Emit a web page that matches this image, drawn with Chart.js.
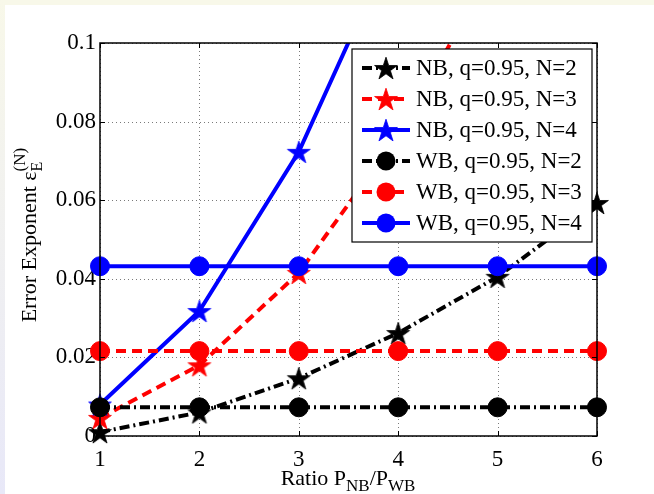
<!DOCTYPE html>
<html>
<head>
<meta charset="utf-8">
<script src="https://cdn.jsdelivr.net/npm/chart.js@4/dist/chart.umd.min.js"></script>
<style>
  html, body { margin: 0; padding: 0; background: #fff; }
  #wrap { width: 654px; height: 494px; position: relative; }
</style>
</head>
<body>
<div id="wrap"><canvas id="chart"></canvas></div>
<script>
// values
const ratios = [1, 2, 3, 4, 5, 6];
const nbN2 = [0.001, 0.006, 0.0147, 0.0262, 0.0405, 0.0593];
const nbN3 = [0.0046, 0.018, 0.0415, 0.0765, 0.121, 0.17];
const nbN4 = [0.008, 0.0318, 0.0723, 0.128, 0.19, 0.26];
const wbN2 = [0.0073, 0.0073, 0.0073, 0.0073, 0.0073, 0.0073];
const wbN3 = [0.0216, 0.0216, 0.0216, 0.0216, 0.0216, 0.0216];
const wbN4 = [0.0432, 0.0432, 0.0432, 0.0432, 0.0432, 0.0432];
const yTicks = [0, 0.02, 0.04, 0.06, 0.08, 0.1];
const seriesNames = [
  'NB, q=0.95, N=2', 'NB, q=0.95, N=3', 'NB, q=0.95, N=4',
  'WB, q=0.95, N=2', 'WB, q=0.95, N=3', 'WB, q=0.95, N=4'
];

const SERIF = '"Liberation Serif", "Times New Roman", serif';
const BLACK = '#000000', RED = '#ff0000', BLUE = '#0000ff';
const DASHDOT = [10, 4, 2, 4];
const DASHED = [10, 6];

function starImage(color) {
  const R = 12, r = R * 0.382, s = 28;
  const c = document.createElement('canvas');
  c.width = s; c.height = s;
  const g = c.getContext('2d');
  g.beginPath();
  for (let i = 0; i < 10; i++) {
    const rad = i % 2 ? r : R;
    const a = -Math.PI / 2 + i * Math.PI / 5;
    const px = s / 2 + rad * Math.cos(a), py = s / 2 + 1.2 + rad * Math.sin(a);
    i ? g.lineTo(px, py) : g.moveTo(px, py);
  }
  g.closePath();
  g.fillStyle = color;
  g.fill();
  g.lineWidth = 0.8;
  g.strokeStyle = color;
  g.stroke();
  return c;
}

const styles = [
  { color: BLACK, dash: DASHDOT, marker: 'star' },
  { color: RED, dash: DASHED, marker: 'star' },
  { color: BLUE, dash: [], marker: 'star' },
  { color: BLACK, dash: DASHDOT, marker: 'circle' },
  { color: RED, dash: DASHED, marker: 'circle' },
  { color: BLUE, dash: [], marker: 'circle' }
];
const seriesValues = [nbN2, nbN3, nbN4, wbN2, wbN3, wbN4];
const stars = {};
[BLACK, RED, BLUE].forEach(c => { stars[c] = starImage(c); });

const datasets = seriesValues.map((vals, i) => {
  const st = styles[i];
  return {
    label: seriesNames[i],
    data: ratios.map((x, k) => ({ x: x, y: vals[k] })),
    borderColor: st.color,
    backgroundColor: st.color,
    borderWidth: 4,
    borderDash: st.dash,
    pointStyle: st.marker === 'star' ? stars[st.color] : 'circle',
    pointRadius: 9.5,
    pointBorderWidth: 1,
    pointHoverRadius: 9.5,
    tension: 0,
    order: 5 - i,
    clip: { left: 30, right: 30, top: 0, bottom: 30 }
  };
});

function drawMixed(ctx, parts, x, y, align) {
  // parts: [text, size, dy, 'stack'?]
  let total = 0;
  parts.forEach(p => { ctx.font = p[1] + 'px ' + SERIF; p.w = ctx.measureText(p[0]).width; });
  parts.forEach(p => { if (p[3] !== 'stack') total += p.w; });
  let cx = align === 'center' ? x - total / 2 : x;
  let lastX = cx;
  parts.forEach(p => {
    ctx.font = p[1] + 'px ' + SERIF;
    if (p[3] === 'stack') {
      ctx.fillText(p[0], lastX, y + p[2]);
    } else {
      lastX = cx;
      ctx.fillText(p[0], cx, y + p[2]);
      cx += p.w;
    }
  });
}

const decor = {
  id: 'decor',
  beforeDraw(chart) {
    const ctx = chart.ctx;
    ctx.save();
    ctx.fillStyle = '#ffffff';
    ctx.fillRect(0, 0, chart.width, chart.height);
    ctx.fillStyle = '#f8f8e9';
    ctx.fillRect(0, 0, chart.width, 5);
    const g = ctx.createLinearGradient(0, 0, 0, chart.height);
    g.addColorStop(0, '#f8f8e9');
    g.addColorStop(1, '#e8e8f8');
    ctx.fillStyle = g;
    ctx.fillRect(0, 0, 5, chart.height);
    ctx.restore();
  },
  beforeDatasetsDraw(chart) {
    const ctx = chart.ctx, a = chart.chartArea;
    const xs = chart.scales.x, ys = chart.scales.y;
    ctx.save();
    ctx.strokeStyle = '#7a7a7a';
    ctx.lineWidth = 1;
    ctx.setLineDash([1, 3]);
    ratios.forEach(v => {
      const px = Math.round(xs.getPixelForValue(v)) + 0.5;
      ctx.beginPath(); ctx.moveTo(px, a.top); ctx.lineTo(px, a.bottom); ctx.stroke();
    });
    yTicks.forEach(v => {
      const py = Math.round(ys.getPixelForValue(v)) + 0.5;
      ctx.beginPath(); ctx.moveTo(a.left, py); ctx.lineTo(a.right, py); ctx.stroke();
    });
    ctx.restore();
  },
  afterDatasetsDraw(chart) {
    const ctx = chart.ctx, a = chart.chartArea;
    const xs = chart.scales.x, ys = chart.scales.y;
    ctx.save();
    // frame and inward ticks
    ctx.strokeStyle = '#000';
    ctx.lineWidth = 1.5;
    ctx.setLineDash([]);
    ctx.strokeRect(a.left, a.top, a.right - a.left, a.bottom - a.top);
    ctx.lineWidth = 1;
    ratios.forEach(v => {
      const px = Math.round(xs.getPixelForValue(v)) + 0.5;
      ctx.beginPath();
      ctx.moveTo(px, a.bottom); ctx.lineTo(px, a.bottom - 5);
      ctx.moveTo(px, a.top); ctx.lineTo(px, a.top + 5);
      ctx.stroke();
    });
    yTicks.forEach(v => {
      const py = Math.round(ys.getPixelForValue(v)) + 0.5;
      ctx.beginPath();
      ctx.moveTo(a.left, py); ctx.lineTo(a.left + 5, py);
      ctx.moveTo(a.right, py); ctx.lineTo(a.right - 5, py);
      ctx.stroke();
    });

    // legend box
    const bx = 352, by = 49, bw = 240, bh = 193;
    ctx.fillStyle = '#fff';
    ctx.fillRect(bx, by, bw, bh);
    ctx.strokeStyle = '#000';
    ctx.lineWidth = 1.2;
    ctx.strokeRect(bx, by, bw, bh);
    seriesNames.forEach((name, i) => {
      const st = styles[i];
      const cy = 68 + i * 31;
      ctx.save();
      ctx.strokeStyle = st.color;
      ctx.lineWidth = 4;
      ctx.setLineDash(st.dash);
      ctx.beginPath(); ctx.moveTo(362, cy); ctx.lineTo(410, cy); ctx.stroke();
      ctx.restore();
      if (st.marker === 'star') {
        const img = stars[st.color];
        ctx.drawImage(img, 386 - img.width / 2, cy - img.height / 2);
      } else {
        ctx.fillStyle = st.color;
        ctx.beginPath(); ctx.arc(386, cy, 9.5, 0, Math.PI * 2); ctx.fill();
      }
      ctx.fillStyle = '#000';
      ctx.font = '23px ' + SERIF;
      ctx.textAlign = 'left';
      ctx.textBaseline = 'middle';
      ctx.fillText(name, 416, cy + 1);
    });

    // axis titles with sub/superscripts
    ctx.fillStyle = '#000';
    ctx.textBaseline = 'alphabetic';
    ctx.textAlign = 'left';
    drawMixed(ctx, [['Ratio P', 22, 0], ['NB', 17, 6], ['/P', 22, 0], ['WB', 17, 6]], 348, 485, 'center');

    ctx.translate(36, 242);
    ctx.rotate(-Math.PI / 2);
    drawMixed(ctx, [['Error Exponent \u03b5', 22, 0], ['E', 16, 6], ['(N)', 17, -11, 'stack']], 0, 0, 'center');
    ctx.restore();
  }
};

new Chart(document.getElementById('chart'), {
  type: 'line',
  data: { datasets: datasets },
  options: {
    responsive: true,
    maintainAspectRatio: false,
    animation: false,
    devicePixelRatio: 1,
    layout: { padding: { top: 43, right: 57, left: 0, bottom: 0 } },
    plugins: { legend: { display: false }, tooltip: { enabled: false } },
    scales: {
      x: {
        type: 'linear',
        min: 1, max: 6,
        afterFit: s => { s.height = 58; },
        grid: { display: false, drawTicks: false },
        border: { display: false },
        ticks: {
          stepSize: 1, padding: 10, color: '#000',
          font: { family: SERIF, size: 23 }
        }
      },
      y: {
        min: 0, max: 0.1,
        afterFit: s => { s.width = 100; },
        afterBuildTicks: s => { s.ticks = yTicks.map(v => ({ value: v })); },
        grid: { display: false, drawTicks: false },
        border: { display: false },
        ticks: {
          padding: 4, color: '#000',
          font: { family: SERIF, size: 23 },
          callback: v => String(+v.toFixed(2))
        }
      }
    }
  },
  plugins: [decor]
});
</script>
</body>
</html>
